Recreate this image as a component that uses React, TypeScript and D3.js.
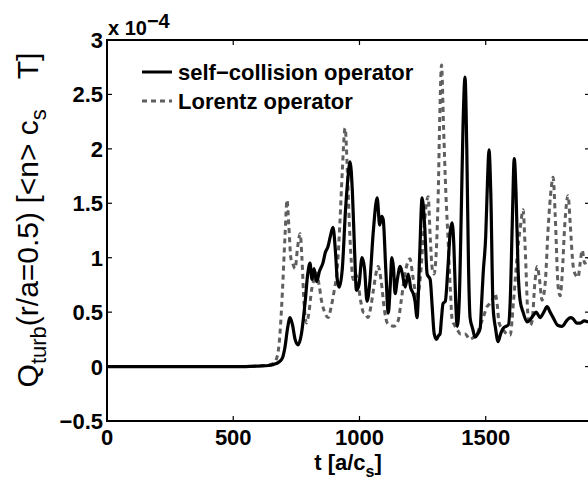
import React from "react";
import * as d3 from "d3";

const selfT = [0, 100, 200, 300, 400, 500, 550, 600, 640, 660, 680, 695, 705, 715, 725, 735, 745, 757, 770, 785, 795, 804, 812, 820, 830, 842, 855, 865, 875, 885, 895, 905, 912, 920, 932, 945, 955, 963, 972, 980, 988, 998, 1010, 1020, 1030, 1040, 1055, 1070, 1080, 1088, 1094, 1104, 1114, 1122, 1128, 1135, 1141, 1150, 1161, 1170, 1181, 1193, 1203, 1213, 1220, 1228, 1238, 1248, 1258, 1268, 1280, 1288, 1296, 1305, 1312, 1319, 1325, 1331, 1340, 1350, 1360, 1367, 1374, 1381, 1387, 1395, 1403, 1410, 1418, 1425, 1432, 1438, 1448, 1458, 1468, 1478, 1484, 1490, 1500, 1507, 1513, 1520, 1529, 1539, 1549, 1559, 1569, 1580, 1589, 1597, 1605, 1613, 1620, 1628, 1636, 1648, 1664, 1676, 1688, 1700, 1715, 1730, 1743, 1755, 1767, 1785, 1803, 1820, 1835, 1846, 1860, 1874, 1890, 1906];
const selfQ = [0, 0, 0, 0, 0, 0, 0, 0.005, 0.01, 0.02, 0.04, 0.08, 0.18, 0.35, 0.45, 0.38, 0.25, 0.2, 0.3, 0.6, 0.85, 0.95, 0.8, 0.9, 0.78, 0.88, 0.95, 1.05, 1.1, 1.2, 1.28, 1.05, 0.8, 0.73, 0.9, 1.45, 1.75, 1.88, 1.6, 1.1, 0.7, 0.75, 1.0, 0.9, 0.6, 0.75, 1.25, 1.55, 1.3, 1.38, 1.35, 0.9, 0.49, 0.75, 1.0, 0.9, 0.67, 0.8, 0.92, 0.85, 0.73, 0.85, 0.72, 0.67, 0.6, 0.45, 1.0, 1.55, 1.3, 0.85, 0.8, 0.55, 0.3, 0.25, 0.28, 0.3, 0.45, 0.58, 0.6, 0.9, 1.25, 1.32, 1.1, 0.6, 0.37, 0.6, 1.4, 2.2, 2.66, 2.0, 0.9, 0.45, 0.35, 0.27, 0.3, 0.35, 0.6, 0.86, 1.2, 1.7, 1.99, 1.6, 0.55, 0.35, 0.23, 0.3, 0.35, 0.37, 0.38, 0.6, 1.3, 1.91, 1.6, 0.9, 0.61, 0.5, 0.41, 0.43, 0.47, 0.5, 0.45, 0.5, 0.55, 0.5, 0.45, 0.38, 0.37, 0.42, 0.45, 0.44, 0.4, 0.4, 0.42, 0.41];

const lorT = [0, 100, 200, 300, 400, 500, 550, 600, 640, 660, 675, 685, 695, 705, 713, 720, 728, 735, 745, 755, 765, 772, 780, 790, 800, 810, 820, 830, 840, 850, 862, 876, 888, 900, 912, 922, 932, 943, 952, 960, 968, 975, 985, 995, 1005, 1015, 1022, 1034, 1045, 1055, 1065, 1074, 1085, 1100, 1110, 1121, 1135, 1153, 1165, 1180, 1190, 1200, 1210, 1220, 1228, 1240, 1255, 1265, 1272, 1280, 1288, 1295, 1305, 1312, 1318, 1325, 1333, 1342, 1351, 1360, 1367, 1377, 1387, 1400, 1418, 1438, 1452, 1466, 1478, 1490, 1505, 1517, 1527, 1537, 1545, 1553, 1569, 1583, 1597, 1610, 1624, 1638, 1648, 1656, 1668, 1676, 1684, 1694, 1704, 1713, 1723, 1735, 1748, 1760, 1767, 1775, 1787, 1795, 1803, 1813, 1826, 1835, 1845, 1854, 1866, 1874, 1882, 1892, 1906];
const lorQ = [0, 0, 0, 0, 0, 0, 0, 0.005, 0.015, 0.03, 0.1, 0.3, 0.7, 1.2, 1.53, 1.3, 1.0, 0.95, 0.9, 1.1, 1.22, 1.0, 0.6, 0.4, 0.5, 0.7, 0.8, 0.86, 0.75, 0.6, 0.5, 0.45, 0.55, 0.7, 0.9, 1.3, 1.8, 2.19, 1.8, 1.3, 0.95, 0.8, 0.85, 0.75, 0.6, 0.5, 0.49, 0.45, 0.55, 0.7, 0.85, 0.92, 0.8, 0.5, 0.4, 0.38, 0.37, 0.42, 0.6, 0.85, 0.95, 0.99, 0.85, 0.7, 0.61, 0.8, 1.25, 1.5, 1.56, 1.2, 0.9, 0.85, 1.1, 1.6, 2.3, 2.77, 2.2, 1.6, 1.16, 0.7, 0.43, 0.38, 0.34, 0.3, 0.3, 0.25, 0.27, 0.3, 0.38, 0.45, 0.55, 0.58, 0.62, 0.67, 0.58, 0.4, 0.34, 0.3, 0.29, 0.6, 1.0, 1.3, 1.44, 1.1, 0.45, 0.38, 0.42, 0.75, 0.92, 0.8, 0.61, 0.75, 1.3, 1.65, 1.74, 1.4, 0.73, 0.65, 0.85, 1.3, 1.57, 1.3, 0.95, 0.85, 0.82, 0.95, 1.07, 0.95, 1.0];

const xTicks = [0, 500, 1000, 1500];
const yTicks = [-0.5, 0, 0.5, 1, 1.5, 2, 2.5, 3];
const yTickLabels = ["\u22120.5", "0", "0.5", "1", "1.5", "2", "2.5", "3"];
const legendLabels = ["self\u2212collision operator", "Lorentz operator"];

const W = 588, H = 485;
const L = 107, R = 590, T = 40, B = 421;
const FONT = "'Liberation Sans', Arial, Helvetica, sans-serif";

export default function App() {
  const x = d3.scaleLinear().domain([0, 1913]).range([L, R]);
  const y = d3.scaleLinear().domain([-0.5, 3]).range([B, T]);
  const line = d3
    .line<[number, number]>()
    .x((d) => x(d[0]))
    .y((d) => y(d[1]))
    .curve(d3.curveMonotoneX);
  const selfPts = selfT.map((t, i) => [t, selfQ[i]] as [number, number]);
  const lorPts = lorT.map((t, i) => [t, lorQ[i]] as [number, number]);
  const tl = 5;
  return (
    <svg width={W} height={H} style={{ position: "absolute", left: 0, top: 0, background: "#fff" }} fontFamily={FONT}>
      <defs>
        <clipPath id="plot">
          <rect x={L} y={T} width={R - L} height={B - T} />
        </clipPath>
      </defs>
      <rect x={0} y={0} width={W} height={H} fill="#fff" />
      <g clipPath="url(#plot)" fill="none" strokeLinejoin="round">
        <path d={line(lorPts) || ""} stroke="#5f5f5f" strokeWidth={3} strokeDasharray="5,4" />
        <path d={line(selfPts) || ""} stroke="#000" strokeWidth={3.2} />
      </g>
      <g stroke="#000" strokeWidth={1.2}>
        {xTicks.map((t) => (
          <g key={"xt" + t}>
            <line x1={x(t)} x2={x(t)} y1={B} y2={B - tl} />
            <line x1={x(t)} x2={x(t)} y1={T} y2={T + tl} />
          </g>
        ))}
        {yTicks.map((t) => (
          <g key={"yt" + t}>
            <line x1={L} x2={L + tl} y1={y(t)} y2={y(t)} />
            <line x1={R} x2={R - tl} y1={y(t)} y2={y(t)} />
          </g>
        ))}
      </g>
      <rect x={L} y={T} width={R - L} height={B - T} fill="none" stroke="#000" strokeWidth={2} />
      <g fontSize={22} fontWeight="bold" fill="#000">
        {xTicks.map((t) => (
          <text key={"xl" + t} x={x(t)} y={B + 24} textAnchor="middle">
            {t}
          </text>
        ))}
        {yTicks.map((t, i) => (
          <text key={"yl" + t} x={L - 4} y={y(t) + 8} textAnchor="end">
            {yTickLabels[i]}
          </text>
        ))}
        <text x={L + 1} y={35} fontSize={20}>
          x 10<tspan dy={-7}>{"\u22124"}</tspan>
        </text>
      </g>
      <text x={348} y={470} textAnchor="middle" fontSize={22} fontWeight="bold">
        t [a/c<tspan dy={7} fontSize={16}>s</tspan>
        <tspan dy={-7}>]</tspan>
      </text>
      <text transform={`translate(38,${220}) rotate(-90)`} textAnchor="middle" fontSize={30}>
        Q<tspan dy={8} fontSize={22}>turb</tspan>
        <tspan dy={-8}>(r/a=0.5) [&lt;n&gt; c</tspan>
        <tspan dy={8} fontSize={22}>s</tspan>
        <tspan dy={-8}>{"\u2003T]"}</tspan>
      </text>
      <g fontSize={22} fontWeight="bold">
        <line x1={142} x2={172} y1={72} y2={72} stroke="#000" strokeWidth={3} />
        <text x={178} y={80}>{legendLabels[0]}</text>
        <line x1={142} x2={172} y1={101} y2={101} stroke="#5f5f5f" strokeWidth={3} strokeDasharray="5,4" />
        <text x={178} y={109}>{legendLabels[1]}</text>
      </g>
    </svg>
  );
}
